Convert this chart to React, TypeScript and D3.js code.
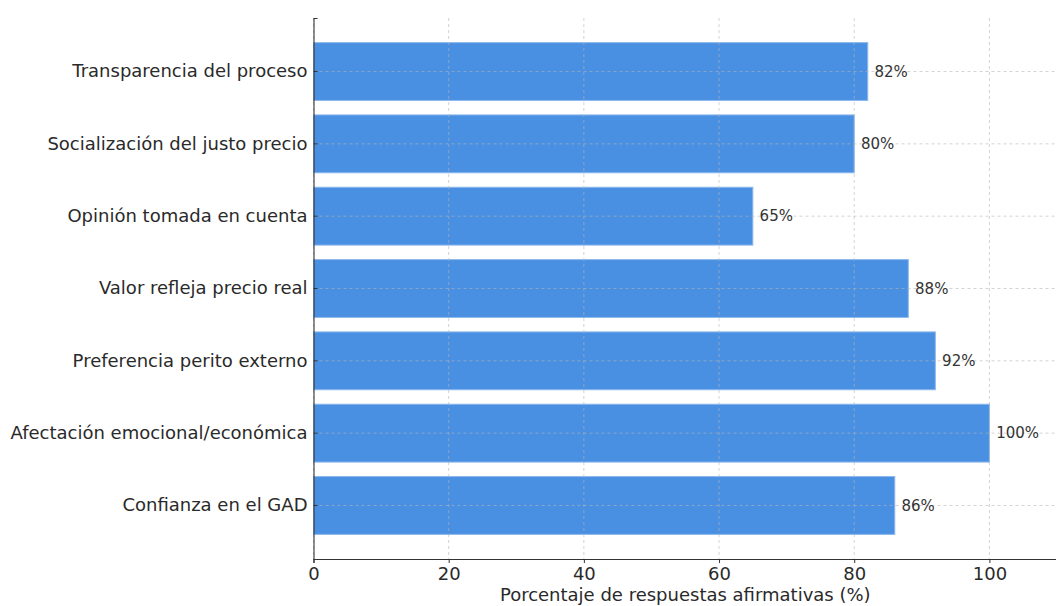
import React, { useRef, useEffect } from 'react';
import * as d3 from 'd3';

// tamaño del lienzo
const width = 1056;
const height = 606;

// datos (de arriba hacia abajo)
const categories = [
    'Transparencia del proceso',
    'Socialización del justo precio',
    'Opinión tomada en cuenta',
    'Valor refleja precio real',
    'Preferencia perito externo',
    'Afectación emocional/económica',
    'Confianza en el GAD',
];
const values = [82, 80, 65, 88, 92, 100, 86];
const xTicks = [0, 20, 40, 60, 80, 100];
const xLabel = 'Porcentaje de respuestas afirmativas (%)';

const margin = { top: 18, right: -1, bottom: 47, left: 313.5 };
const font = 'DejaVu Sans, sans-serif';

export default function App() {
    const svgRef = useRef<SVGSVGElement | null>(null);

    useEffect(() => {
        if (!svgRef.current) return;
        const root = d3.select(svgRef.current);
        root.selectAll('*').remove();

        const x = d3.scaleLinear()
            .domain([0, 110])
            .range([margin.left, width - margin.right]);

        const y = d3.scaleBand<string>()
            .domain(categories)
            .range([margin.top, height - margin.bottom])
            .paddingInner(0.2)
            .paddingOuter(0.34);

        const plotBottom = height - margin.bottom;

        // barras
        root.append('g')
            .selectAll('rect')
            .data(values)
            .enter()
            .append('rect')
            .attr('x', x(0))
            .attr('y', (d, i) => y(categories[i])!)
            .attr('width', d => x(d) - x(0))
            .attr('height', y.bandwidth())
            .attr('fill', '#4a90e2')
            .attr('stroke', '#8db8ec')
            .attr('stroke-width', 1);

        // rejilla encima de las barras
        const grid = root.append('g')
            .attr('stroke', '#b4b4b4')
            .attr('stroke-opacity', 0.65)
            .attr('stroke-width', 0.9)
            .attr('stroke-dasharray', '3,3');

        grid.selectAll('line.v')
            .data(xTicks)
            .enter()
            .append('line')
            .attr('x1', d => x(d))
            .attr('x2', d => x(d))
            .attr('y1', margin.top)
            .attr('y2', plotBottom);

        grid.selectAll('line.h')
            .data(categories)
            .enter()
            .append('line')
            .attr('x1', x(0))
            .attr('x2', width)
            .attr('y1', d => y(d)! + y.bandwidth() / 2)
            .attr('y2', d => y(d)! + y.bandwidth() / 2);

        // etiquetas de valor
        root.append('g')
            .selectAll('text')
            .data(values)
            .enter()
            .append('text')
            .attr('x', d => x(d + 1))
            .attr('y', (d, i) => y(categories[i])! + y.bandwidth() / 2)
            .attr('dy', '0.35em')
            .style('font-family', font)
            .style('font-size', '15px')
            .style('fill', '#333')
            .text(d => `${d}%`);

        // eje x
        const xAxis = root.append('g')
            .attr('transform', `translate(0, ${plotBottom})`)
            .call(d3.axisBottom(x).tickValues(xTicks).tickSize(4).tickPadding(4).tickFormat(d3.format('d')));
        xAxis.select('.domain').attr('stroke', '#333').attr('stroke-width', 1.1);
        xAxis.selectAll('line').attr('stroke', '#333');
        xAxis.selectAll('text')
            .style('font-family', font)
            .style('font-size', '18px')
            .style('fill', '#2a2a2a');

        // eje y
        const yAxis = root.append('g')
            .attr('transform', `translate(${x(0)}, 0)`)
            .call(d3.axisLeft(y).tickSize(-4).tickPadding(7));
        yAxis.select('.domain').attr('stroke', '#333').attr('stroke-width', 1.1);
        yAxis.selectAll('line').attr('stroke', '#333');
        yAxis.selectAll('text')
            .attr('x', -6)
            .style('font-family', font)
            .style('font-size', '18px')
            .style('fill', '#2a2a2a');

        // título del eje x
        root.append('text')
            .attr('x', (x(0) + x(110)) / 2)
            .attr('y', 601)
            .attr('text-anchor', 'middle')
            .style('font-family', font)
            .style('font-size', '18px')
            .style('fill', '#2a2a2a')
            .text(xLabel);
    }, []);

    return (
        <svg
            ref={svgRef}
            width={width}
            height={height}
            style={{ position: 'absolute', left: 0, top: 0, background: '#fff' }}
        />
    );
}
